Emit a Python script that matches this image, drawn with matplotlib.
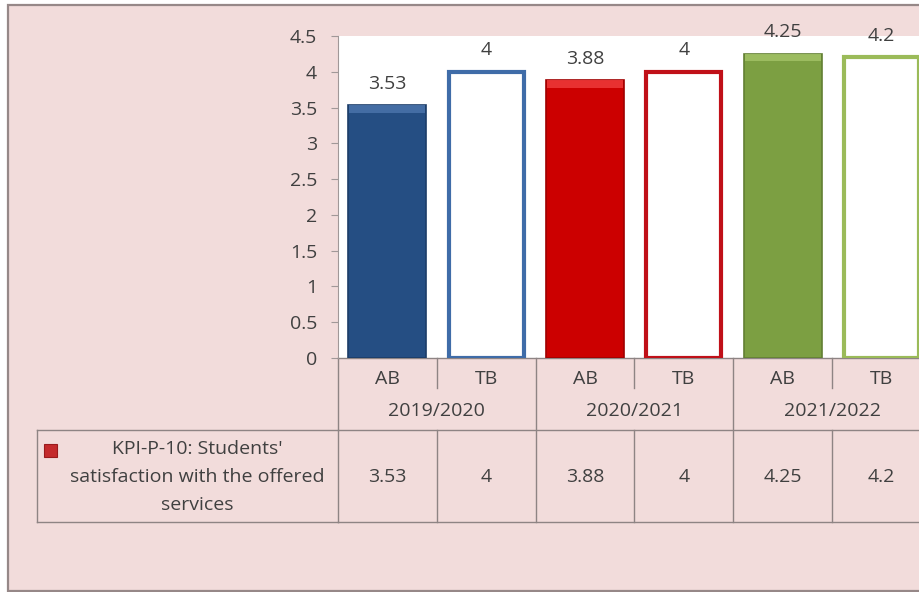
import matplotlib
matplotlib.use("Agg")
import matplotlib.pyplot as plt
from matplotlib.patches import Rectangle
from matplotlib.transforms import blended_transform_factory

# Data
years = ["2019/2020", "2020/2021", "2021/2022"]
kinds = ["AB", "TB", "AB", "TB", "AB", "TB"]
values = [3.53, 4, 3.88, 4, 4.25, 4.2]
series_name = "KPI-P-10: Students'\nsatisfaction with the offered\nservices"
y_ticks = [0, 0.5, 1, 1.5, 2, 2.5, 3, 3.5, 4, 4.5]

# Styling per bar: (fill, edge, highlight)
styles = [
    ("#254E83", "#1C3D68", "#4A73AA"),
    ("white", "#3F6CA8", None),
    ("#CC0000", "#A00000", "#EE3A3A"),
    ("white", "#C01018", None),
    ("#7C9F42", "#627F33", "#A2C266"),
    ("white", "#9BBB59", None),
]

W, H = 919, 592
PINK = "#F2DCDB"
TXT = "#404040"
GRID = "#8E8484"
FS = 14

plt.rcParams["font.family"] = ["Open Sans", "DejaVu Sans"]

fig = plt.figure(figsize=(W / 100, H / 100), dpi=100, facecolor="white")


def fx(px):
    return px / W


def fy(py):
    return 1 - py / H


# Chart background with frame
fig.patches.append(Rectangle((fx(8), fy(591)), fx(940) - fx(8), fy(5) - fy(591),
                             transform=fig.transFigure, facecolor=PINK,
                             edgecolor="#968888", linewidth=1.6, zorder=-5))

ax_left, ax_right, ax_top, ax_bottom = 338, 931, 36, 358
ax = fig.add_axes([fx(ax_left), fy(ax_bottom), fx(ax_right) - fx(ax_left),
                   fy(ax_top) - fy(ax_bottom)])
ax.set_facecolor("white")
ax.set_xlim(-0.5, len(values) - 0.5)
ax.set_ylim(0, 4.5)

xs = list(range(len(values)))
bw = 0.79
for x, v, (fc, ec, hi) in zip(xs, values, styles):
    if fc == "white":
        ax.bar(x, v, width=bw - 0.03, color="white", edgecolor=ec,
               linewidth=3.0, zorder=3)
    else:
        ax.bar(x, v, width=bw, color=fc, edgecolor=ec, linewidth=1.2, zorder=3)
        # bevelled top edge
        ax.bar(x, 0.1, bottom=v - 0.1, width=bw - 0.02, color=hi,
               edgecolor="none", alpha=0.85, zorder=4)
    ax.annotate(f"{v:g}", (x, v), xytext=(0, 9), textcoords="offset points",
                ha="center", va="bottom", fontsize=FS, color=TXT,
                annotation_clip=False)

ax.set_yticks(y_ticks)
ax.set_yticklabels([f"{t:g}" for t in y_ticks], fontsize=FS, color=TXT)
ax.tick_params(axis="y", length=5, color="#A09898", pad=10)
ax.set_xticks([])
for s in ["top", "right", "bottom"]:
    ax.spines[s].set_visible(False)
ax.spines["left"].set_color("#A09898")

# Category axis and data table below the plot
tr = blended_transform_factory(ax.transData, fig.transFigure)


def hline(x0, x1, py):
    ax.plot([x0, x1], [fy(py), fy(py)], transform=tr, clip_on=False,
            color=GRID, linewidth=1)


def vline(x, py0, py1):
    ax.plot([x, x], [fy(py0), fy(py1)], transform=tr, clip_on=False,
            color=GRID, linewidth=1)


x_end = len(values) - 0.5
row_line, table_bottom = 430, 522

hline(-0.5, x_end, ax_bottom)
hline(-0.5, x_end, row_line)
hline(-0.5, x_end, table_bottom)

# legend cell border
for py in (row_line, table_bottom):
    fig.lines.append(plt.Line2D([fx(37), fx(ax_left)], [fy(py), fy(py)],
                                transform=fig.transFigure, color=GRID,
                                linewidth=1))
fig.lines.append(plt.Line2D([fx(37), fx(37)], [fy(row_line), fy(table_bottom)],
                            transform=fig.transFigure, color=GRID, linewidth=1))

for i in range(len(values) + 1):
    xb = i - 0.5
    if i % 2 == 0:
        vline(xb, ax_bottom, table_bottom)
    else:
        vline(xb, ax_bottom, 388)
        vline(xb, row_line, table_bottom)

for x, k, v in zip(xs, kinds, values):
    ax.text(x, fy(379), k, transform=tr, ha="center", va="center",
            fontsize=FS, color=TXT, clip_on=False)
    ax.text(x, fy(477), f"{v:g}", transform=tr, ha="center", va="center",
            fontsize=FS, color=TXT, clip_on=False)
for g, yr in enumerate(years):
    ax.text(2 * g + 0.5, fy(411), yr, transform=tr, ha="center", va="center",
            fontsize=FS, color=TXT, clip_on=False)

# Legend key and series name
fig.patches.append(Rectangle((fx(44), fy(457)), fx(13), fy(444) - fy(457),
                             transform=fig.transFigure, facecolor="#C42A2C",
                             edgecolor="#9A1A1C", linewidth=0.8))
fig.text(fx(197), fy(477), series_name, ha="center", va="center",
         fontsize=FS, color=TXT, linespacing=1.75)

fig.savefig("out.png", dpi=100, facecolor=fig.get_facecolor())
